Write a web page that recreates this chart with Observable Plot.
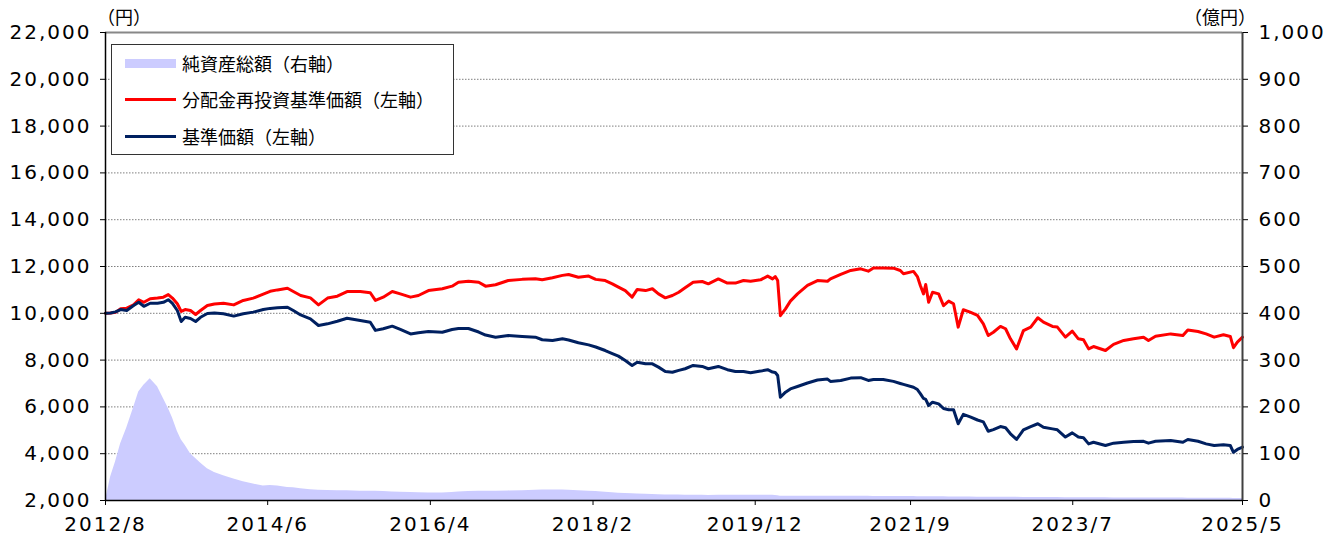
<!DOCTYPE html>
<html><head><meta charset="utf-8">
<script src="https://cdn.jsdelivr.net/npm/d3@7"></script>
<script src="https://cdn.jsdelivr.net/npm/@observablehq/plot@0.6"></script>
<style>
body{margin:0;background:#fff;}
#wrap{position:relative;width:1337px;height:537px;overflow:hidden;}
.unit{position:absolute;font-family:"Noto Sans CJK JP";font-size:18px;color:#000;line-height:18px;white-space:nowrap;}
#legend{position:absolute;left:111px;top:44px;width:341px;height:109px;border:1px solid #333;background:#fff;font-family:"Noto Sans CJK JP";font-size:18px;color:#000;}
.item{position:absolute;left:0;width:100%;height:20px;}
.sw{position:absolute;left:13px;width:51px;}
.lab{position:absolute;left:70px;top:0;line-height:20px;white-space:nowrap;}
</style></head>
<body>
<div id="wrap">
  <div id="chart"></div>
  <div class="unit" id="uL" style="left:97px;top:7px;">（円）</div>
  <div class="unit" id="uR" style="right:81px;top:7px;">（億円）</div>
  <div id="legend"></div>
</div>
<script>
// ---- data ----
const dates = [
"2012-08-31","2012-09-21","2012-10-11","2012-11-01","2012-11-26","2012-12-24","2013-01-14","2013-02-04","2013-03-02","2013-04-01",
"2013-04-25","2013-05-15","2013-06-01","2013-06-21","2013-07-07","2013-07-23","2013-08-14","2013-09-04","2013-09-24","2013-10-22",
"2013-11-20","2013-12-27","2014-02-07","2014-03-18","2014-04-28","2014-06-08","2014-07-06","2014-08-05","2014-09-15","2014-10-09",
"2014-11-08","2014-12-18","2015-01-20","2015-02-26","2015-04-07","2015-05-17","2015-07-10","2015-08-20","2015-09-10","2015-10-12",
"2015-11-18","2015-12-21","2016-02-01","2016-03-04","2016-04-14","2016-06-10","2016-07-20","2016-08-15","2016-09-25","2016-11-06",
"2016-12-04","2017-01-14","2017-03-07","2017-05-03","2017-06-26","2017-07-24","2017-09-04","2017-10-15","2017-11-09","2017-12-19",
"2018-01-30","2018-02-28","2018-04-08","2018-05-07","2018-06-01","2018-06-29","2018-07-27","2018-08-17","2018-09-20","2018-10-18",
"2018-11-12","2018-12-10","2019-01-08","2019-02-03","2019-03-01","2019-04-03","2019-05-10","2019-06-04","2019-07-15","2019-08-21",
"2019-09-23","2019-10-26","2019-11-24","2020-01-04","2020-02-02","2020-02-22","2020-03-04","2020-03-14","2020-03-25","2020-04-15",
"2020-05-05","2020-06-03","2020-07-14","2020-08-24","2020-10-04","2020-10-16","2020-11-27","2021-01-07","2021-02-17","2021-03-20",
"2021-04-10","2021-05-20","2021-07-01","2021-07-29","2021-08-11","2021-09-21","2021-10-07","2021-10-19","2021-11-01","2021-11-10",
"2021-11-22","2021-12-08","2022-01-02","2022-01-22","2022-02-12","2022-03-04","2022-03-23","2022-04-13","2022-05-11","2022-06-10",
"2022-07-04","2022-07-24","2022-08-14","2022-09-12","2022-10-03","2022-10-23","2022-11-17","2022-12-15","2023-01-14","2023-02-12",
"2023-03-07","2023-04-13","2023-05-03","2023-06-05","2023-07-03","2023-07-28","2023-08-18","2023-09-08","2023-09-28","2023-11-16",
"2023-12-19","2024-01-30","2024-03-10","2024-04-20","2024-05-10","2024-06-08","2024-08-09","2024-09-28","2024-10-18","2024-11-29",
"2025-01-01","2025-02-03","2025-03-13","2025-04-10","2025-04-23","2025-05-09","2025-05-30"];

// 分配金再投資基準価額 (円)
const navReinvest = [
10000,10010,10040,10190,10220,10360,10580,10470,10620,10650,
10690,10800,10650,10410,10080,10160,10120,9950,10120,10330,
10400,10430,10360,10550,10650,10820,10940,11000,11070,10930,
10760,10660,10360,10650,10730,10930,10930,10880,10550,10690,
10930,10830,10690,10760,10970,11050,11160,11330,11370,11330,
11160,11220,11400,11450,11480,11430,11520,11620,11660,11540,
11590,11450,11400,11260,11120,10970,10690,11020,10970,11050,
10830,10660,10760,10900,11090,11330,11360,11260,11470,11290,
11290,11400,11370,11430,11590,11470,11570,11400,9900,10190,
10520,10830,11190,11400,11370,11470,11660,11830,11900,11800,
11940,11940,11930,11830,11690,11790,11570,11190,10830,11230,
10470,10900,10830,10330,10520,10410,9410,10150,10050,9910,
9550,9050,9190,9440,9340,8910,8480,9260,9410,9810,
9620,9440,9410,8980,9240,8910,8870,8480,8580,8410,
8670,8840,8910,8980,8840,9020,9120,9050,9290,9220,
9120,8980,9080,9010,8530,8770,8980];

// 基準価額 (円)
const navValues = [
10000,10010,10060,10160,10120,10330,10470,10300,10430,10430,
10470,10580,10420,10120,9650,9830,9780,9650,9830,9990,
10010,9980,9880,9980,10050,10160,10210,10240,10260,10120,
9930,9760,9480,9550,9660,9790,9690,9620,9270,9340,
9450,9310,9120,9170,9220,9190,9310,9350,9350,9200,
9070,8980,9050,9010,8980,8870,8840,8910,8860,8740,
8650,8560,8410,8280,8170,7980,7770,7910,7840,7840,
7700,7510,7480,7560,7630,7770,7730,7630,7730,7590,
7510,7510,7460,7530,7590,7490,7470,7340,6410,6630,
6770,6870,7020,7150,7190,7090,7130,7230,7250,7130,
7170,7170,7090,7000,6960,6840,6740,6570,6360,6320,
6060,6200,6130,5930,5880,5880,5280,5680,5570,5440,
5360,4960,5030,5160,5110,4850,4610,5020,5160,5280,
5130,5060,5020,4710,4890,4710,4680,4420,4490,4350,
4450,4490,4520,4530,4450,4530,4560,4490,4610,4530,
4420,4350,4380,4350,4060,4180,4280];

// 純資産総額 (億円)
const netAssets = [
0,50,82,121,155,198,232,246,260,243,
218,197,177,148,130,118,100,90,80,68,
60,53,46,40,35,31,32,31,28,27,
25,23,22,21.5,21,21,20,20,19.5,19,
18,17.8,17,16.5,16,16,17,18,19,19.5,
20,20,20.5,21,22,22.5,22.7,22.5,22,21,
20,19,17.5,16.5,15.5,15,14.5,14,13.5,13,
12.5,12,12,11.5,11,11,11,10.7,11,11,
11,11,11,11,11,11,10.5,10,9,9,
9,9,9,9,9,9,9,9,9,9,
8.8,8.5,8.5,8.5,8.5,8.3,8.2,8,8,8,
8,8,7.8,7.8,7.7,7.6,7.5,7.4,7.3,7.2,
7.1,7,7,7,6.9,6.8,6.7,6.6,6.5,6.5,
6.4,6.3,6.2,6.1,6,6,5.9,5.8,5.8,5.7,
5.6,5.5,5.5,5.4,5.3,5.3,5.2,5.1,5,5,
4.9,4.8,4.7,4.6,4.5,4.5,4.5];

const leftTicks = [2000,4000,6000,8000,10000,12000,14000,16000,18000,20000,22000];
const rightTicks = [0,100,200,300,400,500,600,700,800,900,1000];
const xTickDates = ["2012-08-31","2014-06-26","2016-04-22","2018-02-17","2019-12-13","2021-09-09","2023-07-05","2025-05-30"];
const xTickLabels = ["2012/8","2014/6","2016/4","2018/2","2019/12","2021/9","2023/7","2025/5"];

const seriesNames = ["純資産総額（右軸）","分配金再投資基準価額（左軸）","基準価額（左軸）"];
const seriesColors = ["#ccccff","#ff0000","#002060"];

// ---- build ----
const parse = d3.utcParse("%Y-%m-%d");
const rows = dates.map((d, i) => ({date: parse(d), reinvest: navReinvest[i], nav: navValues[i], assets: netAssets[i]}));
// right axis (億円) maps onto the left (円) scale: 0..1000 -> 2000..22000
const yMin = leftTicks[0], yMax = leftTicks[leftTicks.length - 1];
const rMax = rightTicks[rightTicks.length - 1];
const toLeft = v => yMin + v * (yMax - yMin) / rMax;
const fromLeft = v => (v - yMin) * rMax / (yMax - yMin);
const tickDates = xTickDates.map(parse);
const labelByTime = new Map(tickDates.map((d, i) => [+d, xTickLabels[i]]));
const x0 = parse(dates[0]), x1 = parse(dates[dates.length - 1]);
const fmt = d3.format(",");

const chart = Plot.plot({
  width: 1337,
  height: 537,
  marginLeft: 105,
  marginRight: 95,
  marginTop: 32,
  marginBottom: 37,
  style: {fontFamily: "DejaVu Sans", fontSize: "20px", letterSpacing: "2px", color: "#000", background: "#fff", overflow: "visible"},
  x: {type: "utc", domain: [x0, x1]},
  y: {domain: [yMin, yMax]},
  marks: [
    Plot.ruleY(leftTicks.slice(1, -1), {stroke: "#7f7f7f", strokeDasharray: "1.5,1.5", strokeWidth: 1}),
    Plot.areaY(rows, {x: "date", y1: yMin, y2: d => toLeft(d.assets), fill: seriesColors[0]}),
    Plot.lineY(rows, {x: "date", y: "reinvest", stroke: seriesColors[1], strokeWidth: 3, strokeLinejoin: "round"}),
    Plot.lineY(rows, {x: "date", y: "nav", stroke: seriesColors[2], strokeWidth: 3, strokeLinejoin: "round"}),
    Plot.ruleY([yMax], {stroke: "#888", strokeWidth: 2}),
    Plot.ruleX([x1], {stroke: "#404040", strokeWidth: 2}),
    Plot.ruleX([x0], {stroke: "#000", strokeWidth: 1.5}),
    Plot.ruleY([yMin], {stroke: "#000", strokeWidth: 1.5}),
    Plot.axisY(leftTicks, {anchor: "left", tickSize: 5, tickPadding: 9, tickFormat: fmt, label: null}),
    Plot.axisY(rightTicks.map(toLeft), {anchor: "right", tickSize: 5, tickPadding: 11, tickFormat: d => fmt(Math.round(fromLeft(d))), label: null}),
    Plot.axisX(tickDates, {anchor: "bottom", tickSize: 5, tickPadding: 11, tickFormat: d => labelByTime.get(+d), label: null})
  ]
});
document.getElementById("chart").appendChild(chart);

// legend
const legend = document.getElementById("legend");
const tops = [8, 44, 81];
seriesNames.forEach((name, i) => {
  const item = document.createElement("div");
  item.className = "item";
  item.style.top = tops[i] + "px";
  const sw = document.createElement("div");
  sw.className = "sw";
  if (i === 0) { sw.style.top = "5.5px"; sw.style.height = "9px"; }
  else { sw.style.top = "8.5px"; sw.style.height = "3px"; }
  sw.style.background = seriesColors[i];
  const lab = document.createElement("div");
  lab.className = "lab";
  lab.textContent = name;
  item.appendChild(sw);
  item.appendChild(lab);
  legend.appendChild(item);
});
</script>
</body></html>
